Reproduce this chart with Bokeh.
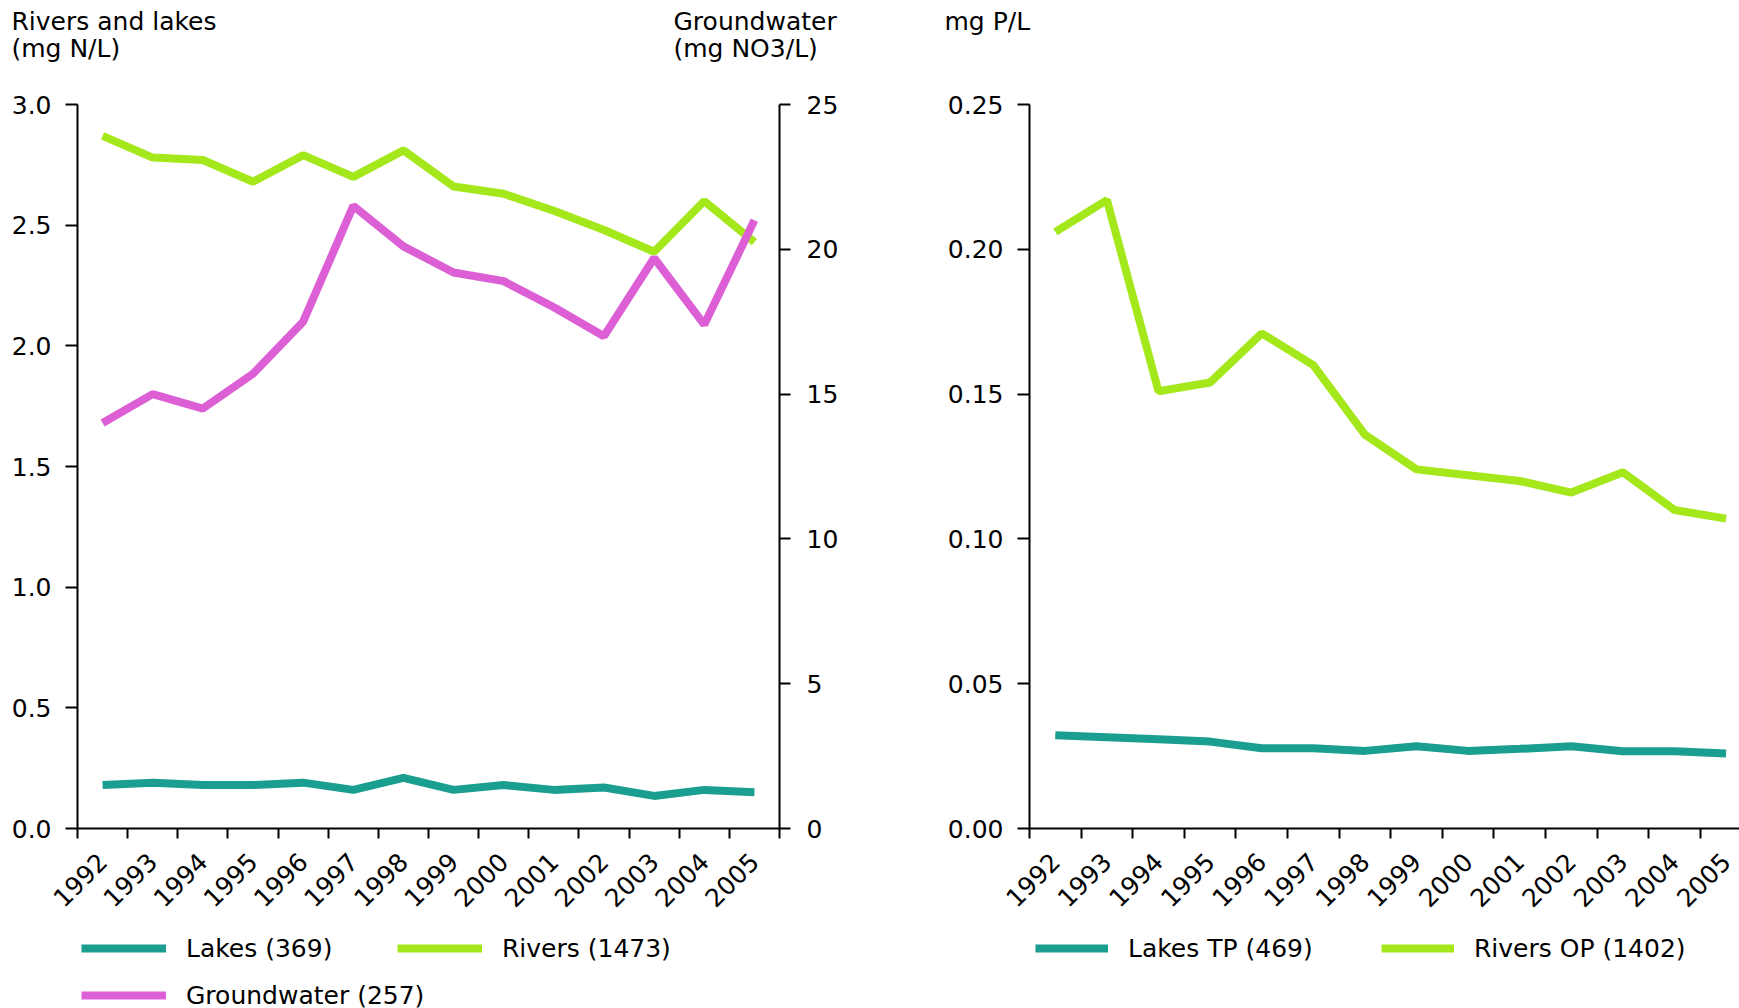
import math
from bokeh.plotting import figure
from bokeh.layouts import row, column
from bokeh.models import (Range1d, LinearAxis, FixedTicker, PrintfTickFormatter,
                          Legend, LegendItem, Label)
from bokeh.embed import file_html
from bokeh.resources import INLINE

# ---------------- data ----------------
years = ["1992", "1993", "1994", "1995", "1996", "1997", "1998",
         "1999", "2000", "2001", "2002", "2003", "2004", "2005"]

lakes_n = [0.18, 0.19, 0.18, 0.18, 0.19, 0.16, 0.21, 0.16, 0.18, 0.16, 0.17, 0.135, 0.16, 0.15]
rivers_n = [2.87, 2.78, 2.77, 2.68, 2.79, 2.70, 2.81, 2.66, 2.63, 2.56, 2.48, 2.39, 2.60, 2.43]
groundwater_no3 = [14.0, 15.0, 14.5, 15.7, 17.5, 21.5, 20.1, 19.2, 18.9, 18.0, 17.0, 19.7, 17.4, 21.0]

lakes_tp = [0.0322, 0.0315, 0.0308, 0.0300, 0.0277, 0.0277, 0.0268, 0.0284, 0.0268, 0.0275,
            0.0284, 0.0267, 0.0267, 0.0259]
rivers_op = [0.206, 0.217, 0.151, 0.154, 0.171, 0.160, 0.136, 0.124, 0.122, 0.120,
             0.116, 0.123, 0.110, 0.107]

n_ticks = [0.0, 0.5, 1.0, 1.5, 2.0, 2.5, 3.0]
gw_ticks = [0, 5, 10, 15, 20, 25]
p_ticks = [0.0, 0.05, 0.10, 0.15, 0.20, 0.25]

left_titles = [["Rivers and lakes", "(mg N/L)"], ["Groundwater", "(mg NO3/L)"]]
right_title = "mg P/L"
left_legend = ["Lakes (369)", "Rivers (1473)", "Groundwater (257)"]
right_legend = ["Lakes TP (469)", "Rivers OP (1402)"]

# ---------------- style / layout ----------------
FONT = "DejaVu Sans"
FS = "25px"
TEAL = "#1a9e8f"
GREEN = "#a4e81b"
PINK = "#dc5fd6"
LW = 8

W_L = 900
W_R = 1739 - W_L
TITLE_H = 84          # canvas rows 0..84
PLOT_TOP_PAD = 20     # frame top at canvas 104
FRAME_H = 724         # frame bottom at canvas 828
PLOT_BOTTOM = 100
PLOT_H = PLOT_TOP_PAD + FRAME_H + PLOT_BOTTOM   # 844
LEG_H = 1008 - TITLE_H - PLOT_H                 # 80
LEG_TOP = TITLE_H + PLOT_H                      # 928

L_LEFT = 77
L_RIGHT = 779
R_LEFT = 1029 - W_L
PXU_R = 51.6

x = list(range(len(years)))
bounds = [i - 0.5 for i in range(len(years) + 1)]


def blank(width, height):
    p = figure(width=width, height=height, output_backend="svg", toolbar_location=None,
               x_range=Range1d(0, width), y_range=Range1d(0, height),
               x_axis_location=None, y_axis_location=None,
               min_border=0, min_border_left=0, min_border_right=0,
               min_border_top=0, min_border_bottom=0)
    p.outline_line_color = None
    p.grid.visible = False
    return p


def add_text(p, text, xd, yd):
    p.add_layout(Label(x=xd, y=yd, text=text, text_font=FONT, text_font_size=FS,
                       text_color="black", text_baseline="alphabetic", text_align="left"))


def style_axis(ax):
    ax.axis_line_width = 2
    ax.axis_line_color = "black"
    ax.major_tick_line_width = 2
    ax.major_tick_line_color = "black"
    ax.major_tick_in = 0
    ax.major_tick_out = 12
    ax.minor_tick_line_color = None
    ax.major_label_text_font = FONT
    ax.major_label_text_font_size = FS
    ax.major_label_text_color = "black"
    ax.major_label_standoff = 14


def year_axis():
    ax = LinearAxis(ticker=FixedTicker(ticks=x, minor_ticks=bounds),
                    major_label_overrides={i: y for i, y in enumerate(years)})
    style_axis(ax)
    ax.major_tick_line_color = None
    ax.major_tick_out = 10
    ax.minor_tick_line_color = "black"
    ax.minor_tick_line_width = 2
    ax.minor_tick_in = 0
    ax.minor_tick_out = 10
    ax.major_label_orientation = math.pi / 4
    ax.major_label_standoff = 19
    return ax


def legend_row(items, vx, vy, gw, lw):
    return Legend(items=items, location=(vx, vy), orientation="horizontal",
                  glyph_width=gw, glyph_height=30, label_height=30, label_width=lw,
                  label_standoff=20, padding=0, spacing=0, margin=0,
                  border_line_color=None, background_fill_alpha=0,
                  label_text_font=FONT, label_text_font_size=FS, label_text_color="black")


# ---------------- title strips ----------------
t1 = blank(W_L, TITLE_H)
add_text(t1, left_titles[0][0], 11, TITLE_H - 21)
add_text(t1, left_titles[0][1], 11, TITLE_H - 48)
add_text(t1, left_titles[1][0], 673, TITLE_H - 21)
add_text(t1, left_titles[1][1], 673, TITLE_H - 48)

t2 = blank(W_R, TITLE_H)
add_text(t2, right_title, 944 - W_L, TITLE_H - 21)

# ---------------- left chart ----------------
p1 = figure(width=W_L, height=PLOT_H, output_backend="svg", toolbar_location=None,
            x_range=Range1d(-0.5, len(years) - 0.5), y_range=Range1d(0, 3.0),
            x_axis_location=None, y_axis_location=None,
            min_border_left=L_LEFT, min_border_right=W_L - L_RIGHT,
            min_border_top=PLOT_TOP_PAD, min_border_bottom=PLOT_BOTTOM)
p1.extra_y_ranges = {"gw": Range1d(0, 25)}
p1.outline_line_color = None
p1.grid.visible = False

ya = LinearAxis(ticker=FixedTicker(ticks=n_ticks), formatter=PrintfTickFormatter(format="%.1f"))
style_axis(ya)
p1.add_layout(ya, "left")
ya2 = LinearAxis(y_range_name="gw", ticker=FixedTicker(ticks=gw_ticks),
                 formatter=PrintfTickFormatter(format="%d"))
style_axis(ya2)
ya2.major_tick_out = 11
ya2.major_label_standoff = 16
p1.add_layout(ya2, "right")
p1.add_layout(year_axis(), "below")

p1.line(x, lakes_n, line_color=TEAL, line_width=LW)
p1.line(x, rivers_n, line_color=GREEN, line_width=LW)
p1.line(x, groundwater_no3, line_color=PINK, line_width=LW, y_range_name="gw")

# ---------------- right chart ----------------
r_end = -0.5 + (W_R - R_LEFT) / PXU_R
p2 = figure(width=W_R, height=PLOT_H, output_backend="svg", toolbar_location=None,
            x_range=Range1d(-0.5, r_end), y_range=Range1d(0, 0.25),
            x_axis_location=None, y_axis_location=None,
            min_border_left=R_LEFT, min_border_right=0,
            min_border_top=PLOT_TOP_PAD, min_border_bottom=PLOT_BOTTOM)
p2.outline_line_color = None
p2.grid.visible = False

yb = LinearAxis(ticker=FixedTicker(ticks=p_ticks), formatter=PrintfTickFormatter(format="%.2f"))
style_axis(yb)
p2.add_layout(yb, "left")
p2.add_layout(year_axis(), "below")

p2.line(x, lakes_tp, line_color=TEAL, line_width=LW)
p2.line(x, rivers_op, line_color=GREEN, line_width=LW)

# ---------------- legend strips (hidden renderers only supply the key style) ----------------
l1 = blank(W_L, LEG_H)
s_lakes = l1.line(x, lakes_n, line_color=TEAL, line_width=LW, visible=False)
s_rivers = l1.line(x, rivers_n, line_color=GREEN, line_width=LW, visible=False)
s_gw = l1.line(x, groundwater_no3, line_color=PINK, line_width=LW, visible=False)
row1_bottom = LEG_H - (948 - LEG_TOP) - 15
row2_bottom = LEG_H - (995 - LEG_TOP) - 15
l1.add_layout(legend_row([LegendItem(label=left_legend[0], renderers=[s_lakes]),
                          LegendItem(label=left_legend[1], renderers=[s_rivers])],
                         81, row1_bottom, 85, (397 - 81) - 85 - 20))
l1.add_layout(legend_row([LegendItem(label=left_legend[2], renderers=[s_gw])],
                         81, row2_bottom, 85, (397 - 81) - 85 - 20))

l2 = blank(W_R, LEG_H)
s_tp = l2.line(x, lakes_tp, line_color=TEAL, line_width=LW, visible=False)
s_op = l2.line(x, rivers_op, line_color=GREEN, line_width=LW, visible=False)
l2.add_layout(legend_row([LegendItem(label=right_legend[0], renderers=[s_tp]),
                          LegendItem(label=right_legend[1], renderers=[s_op])],
                         1035 - W_L, row1_bottom, 73, (1381 - 1035) - 73 - 20))

layout = column(row(t1, t2), row(p1, p2), row(l1, l2))
open("out.html", "w").write(file_html(layout, INLINE))
